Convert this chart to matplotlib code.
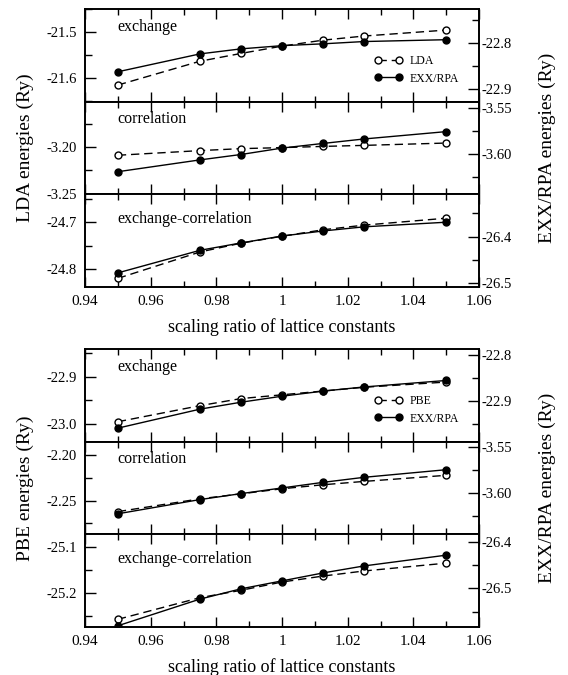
import matplotlib
matplotlib.use('Agg')
import matplotlib.pyplot as plt
import matplotlib.ticker as ticker

plt.rcParams['font.family'] = ['Liberation Serif', 'DejaVu Serif']

# scaling ratio of lattice constants
scale = [0.95, 0.975, 0.9875, 1.0, 1.0125, 1.025, 1.05]

# LDA (left axis) vs EXX/RPA (right axis), Ry
lda_x = [-21.615, -21.563, -21.546, -21.530, -21.517, -21.508, -21.495]
lda_c = [-3.2088, -3.2038, -3.2017, -3.2006, -3.1993, -3.1982, -3.1957]
lda_xc = [-24.821, -24.764, -24.745, -24.730, -24.716, -24.706, -24.691]
rpa1_x = [-22.863, -22.824, -22.813, -22.806, -22.802, -22.797, -22.793]
rpa1_c = [-3.6189, -3.6062, -3.6004, -3.5935, -3.5885, -3.5837, -3.5758]
rpa1_xc = [-26.479, -26.430, -26.414, -26.399, -26.388, -26.379, -26.369]

# PBE (left axis) vs EXX/RPA (right axis), Ry
pbe_x = [-22.995, -22.961, -22.946, -22.938, -22.930, -22.922, -22.911]
pbe_c = [-2.2622, -2.2481, -2.2426, -2.2370, -2.2326, -2.2289, -2.2222]
pbe_xc = [-25.258, -25.211, -25.195, -25.177, -25.164, -25.153, -25.136]
rpa2_x = [-22.958, -22.917, -22.902, -22.889, -22.878, -22.869, -22.855]
rpa2_c = [-3.6228, -3.6073, -3.6008, -3.5946, -3.5885, -3.5830, -3.5747]
rpa2_xc = [-26.580, -26.523, -26.501, -26.484, -26.467, -26.452, -26.429]

panel_names = ['exchange', 'correlation', 'exchange-correlation']
name_y = [0.81, 0.81, 0.735]

groups = [
    dict(dft='LDA', left=[lda_x, lda_c, lda_xc], right=[rpa1_x, rpa1_c, rpa1_xc],
         llim=[(-21.651, -21.449), (-3.2505, -3.1512), (-24.839, -24.639)],
         rlim=[(-22.928, -22.726), (-3.643, -3.5435), (-26.509, -26.308)],
         lstep=[0.1, 0.05, 0.1], rstep=[0.1, 0.05, 0.1],
         lfmt=['%.1f', '%.2f', '%.1f'], rfmt=['%.1f', '%.2f', '%.1f'],
         top=1 - 9 / 675, bottom=1 - 286.7 / 675),
    dict(dft='PBE', left=[pbe_x, pbe_c, pbe_xc], right=[rpa2_x, rpa2_c, rpa2_xc],
         llim=[(-23.037, -22.841), (-2.287, -2.185), (-25.274, -25.073)],
         rlim=[(-22.987, -22.787), (-3.645, -3.544), (-26.582, -26.384)],
         lstep=[0.1, 0.05, 0.1], rstep=[0.1, 0.05, 0.1],
         lfmt=['%.1f', '%.2f', '%.1f'], rfmt=['%.1f', '%.2f', '%.1f'],
         top=1 - 349 / 675, bottom=1 - 626.7 / 675),
]

fig = plt.figure(figsize=(5.68, 6.75), dpi=100)
x0, x1 = 85 / 568, 479 / 568

for g in groups:
    h = (g['top'] - g['bottom']) / 3
    for i in range(3):
        ax = fig.add_axes([x0, g['top'] - (i + 1) * h, x1 - x0, h])
        ax2 = ax.twinx()
        l1, = ax.plot(scale, g['left'][i], color='black', lw=1, dashes=(6, 3.5),
                      marker='o', ms=5, mfc='white', mec='black', mew=1)
        l2, = ax2.plot(scale, g['right'][i], color='black', lw=1,
                       marker='o', ms=5, mfc='black', mec='black')
        ax.set_xlim(0.94, 1.06)
        ax.set_ylim(*g['llim'][i])
        ax2.set_ylim(*g['rlim'][i])
        ax.xaxis.set_major_locator(ticker.MultipleLocator(0.02))
        ax.xaxis.set_minor_locator(ticker.MultipleLocator(0.01))
        ax.xaxis.set_major_formatter(ticker.FuncFormatter(lambda v, p: '%g' % round(v, 3)))
        ax.yaxis.set_major_locator(ticker.MultipleLocator(g['lstep'][i]))
        ax.yaxis.set_minor_locator(ticker.MultipleLocator(g['lstep'][i] / 2))
        ax.yaxis.set_major_formatter(ticker.FormatStrFormatter(g['lfmt'][i]))
        ax2.yaxis.set_major_locator(ticker.MultipleLocator(g['rstep'][i]))
        ax2.yaxis.set_minor_locator(ticker.MultipleLocator(g['rstep'][i] / 2))
        ax2.yaxis.set_major_formatter(ticker.FormatStrFormatter(g['rfmt'][i]))

        ax.tick_params(axis='x', which='both', direction='in', top=True, bottom=True,
                       labelbottom=(i == 2), labelsize=11, pad=6, width=1)
        ax.tick_params(axis='x', which='major', length=7)
        ax.tick_params(axis='x', which='minor', length=4.5)
        ax.tick_params(axis='y', which='both', direction='in', left=True, right=False,
                       labelsize=10.5, pad=6, width=1)
        ax.tick_params(axis='y', which='major', length=8)
        ax.tick_params(axis='y', which='minor', length=5)
        ax2.tick_params(axis='y', which='both', direction='in', labelsize=10.5, pad=2, width=1)
        ax2.tick_params(axis='y', which='major', length=8)
        ax2.tick_params(axis='y', which='minor', length=5)
        for a in (ax, ax2):
            for s in a.spines.values():
                s.set_linewidth(1.2)

        ax.text(0.081, name_y[i], panel_names[i], transform=ax.transAxes,
                fontsize=11.5, ha='left', va='center')
        if i == 0:
            ax2.legend([l1, l2], [g['dft'], 'EXX/RPA'], loc='upper left',
                       bbox_to_anchor=(0.735, 0.5), borderaxespad=0, borderpad=0,
                       frameon=False, fontsize=8.5, numpoints=2, handlelength=2.4,
                       handletextpad=0.6, labelspacing=0.45)

    yc = (g['top'] + g['bottom']) / 2
    fig.text(25 / 568, yc, g['dft'] + ' energies (Ry)', rotation=90,
             ha='center', va='center', fontsize=14)
    fig.text(547 / 568, yc, 'EXX/RPA energies (Ry)', rotation=90,
             ha='center', va='center', fontsize=14)
    fig.text((x0 + x1) / 2, g['bottom'] - 40 / 675, 'scaling ratio of lattice constants',
             ha='center', va='center', fontsize=13)

fig.savefig('out.png', dpi=100)
